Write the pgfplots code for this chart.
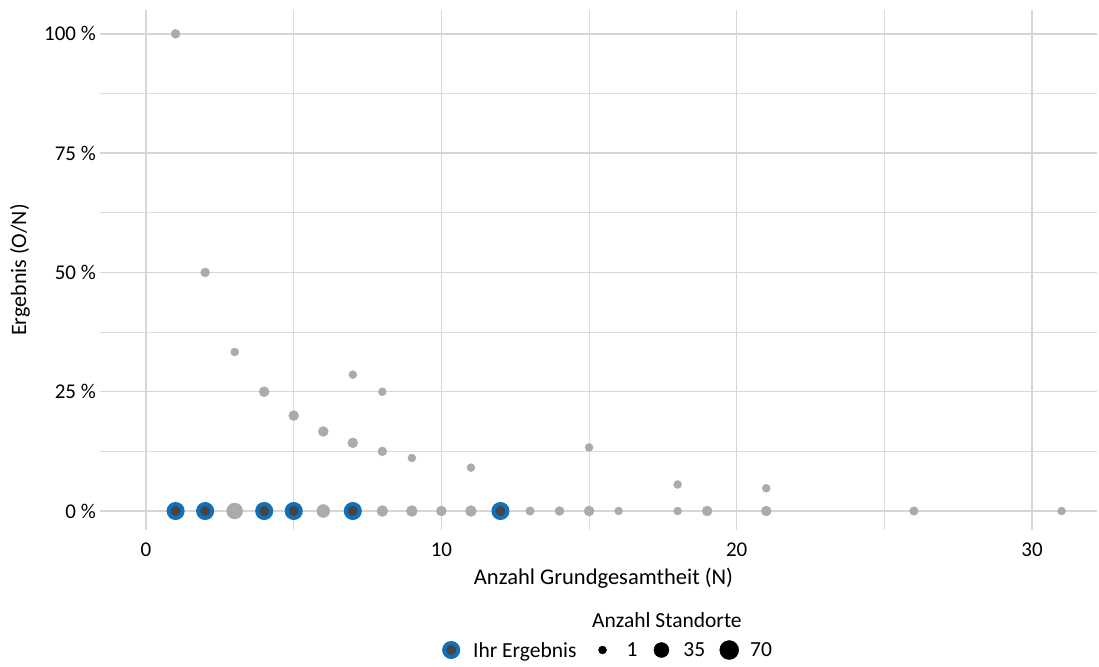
\documentclass[border=0pt]{standalone}
\usepackage{fontspec}
\setmainfont{Carlito}
\usepackage{pgfplots}
\pgfplotsset{compat=1.18}
\definecolor{ptgray}{HTML}{ABABAB}
\definecolor{ihrblue}{HTML}{1170B8}
\definecolor{ihrfill}{HTML}{454545}
\definecolor{gridc}{HTML}{D6D6D6}
\pgfplotsset{lgimg/.style 2 args={legend image code/.code={\path[draw=none,fill=none] (-#1,0pt) -- (#2,0pt); \draw[##1] plot coordinates {(0pt,0pt)};}}}
\begin{document}
\begin{tikzpicture}
\useasboundingbox (-100pt,-136pt) rectangle (999pt,530pt);
\begin{axis}[
 scale only axis, width=997pt, height=520pt,
 xmin=-1.56, xmax=32.2, ymin=-3.98, ymax=105,
 axis line style={draw=none},
 major tick length=0pt, minor tick length=0pt,
 xtick={0,10,20,30}, minor xtick={5,15,25},
 ytick={0,25,50,75,100}, minor ytick={12.5,37.5,62.5,87.5},
 yticklabels={0 \%, 25 \%, 50 \%, 75 \%, 100 \%},
 grid=both,
 major grid style={gridc, line width=1.3pt},
 minor grid style={gridc!85!white, line width=1pt},
 tick label style={font=\fontsize{21}{25}\selectfont, inner sep=0pt},
 yticklabel style={anchor=east, xshift=-4pt},
 xticklabel style={anchor=north, yshift=-13pt},
 /pgf/number format/assume math mode=true,
 xlabel={Anzahl Grundgesamtheit (N)},
 xlabel style={at={(axis description cs:0.505,-0.092)}, anchor=center, font=\fontsize{22.5}{26}\selectfont, inner sep=0pt},
 ylabel={Ergebnis (O/N)},
 ylabel style={at={(axis description cs:-0.0802,0.5)}, anchor=center, font=\fontsize{22}{26}\selectfont, inner sep=0pt},
 legend columns=-1,
 legend style={at={(axis description cs:0.343,-0.2308)}, anchor=west, draw=none, fill=none, inner sep=0pt, column sep=0pt, nodes={inner sep=0pt, text depth=0pt}, font=\fontsize{21.5}{25}\selectfont},
 legend cell align=left,
 clip=false,
]
\addplot[forget plot, scatter, only marks, mark=*,
  mark options={draw=ptgray, fill=ptgray},
  scatter/use mapped color={draw=ptgray, fill=ptgray},
  visualization depends on={\thisrow{r} \as \rr},
  scatter/@pre marker code/.append style={/tikz/mark size=\rr}]
 table[x=x,y=y] {
x y r
1 100 4.5
2 50 4.5
3 33.33 4
4 25 5
5 20 5
6 16.67 5
7 28.57 4
7 14.29 5
8 25 4
8 12.5 4.5
9 11.11 4
11 9.09 4
15 13.33 4
18 5.56 4
21 4.76 4
1 0 6
2 0 6
3 0 8
4 0 6
5 0 6
6 0 6.5
7 0 6
8 0 5.5
9 0 5.5
10 0 5
11 0 5.5
12 0 6
13 0 4.3
14 0 4.5
15 0 5
16 0 4
18 0 4
19 0 5
21 0 5
26 0 4.3
31 0 4
};
\addplot[only marks, mark=*, mark size=7pt, mark options={draw=ihrblue, fill=ihrfill, line width=4pt}, lgimg={9pt}{22pt}]
 coordinates {(1,0)(2,0)(4,0)(5,0)(7,0)(12,0)};
\addlegendentry{Ihr Ergebnis}
\addlegendimage{only marks, mark=*, black, mark size=4pt, lgimg={26pt}{24pt}}
\addlegendentry{1}
\addlegendimage{only marks, mark=*, black, mark size=7.5pt, lgimg={24pt}{22pt}}
\addlegendentry{35}
\addlegendimage{only marks, mark=*, black, mark size=9.5pt, lgimg={24pt}{21pt}}
\addlegendentry{70}
\node[anchor=west, inner sep=0pt, font=\fontsize{21.5}{25}\selectfont] at (axis description cs:0.4935,-0.173) {Anzahl Standorte};
\end{axis}
\end{tikzpicture}
\end{document}
